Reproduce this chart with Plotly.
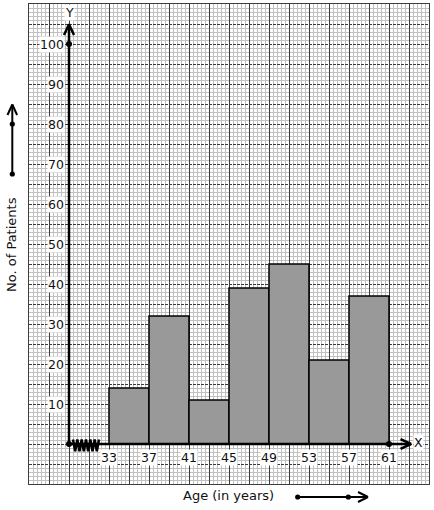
import plotly.graph_objects as go

# ---- data ----
age_edges = [33, 37, 41, 45, 49, 53, 57, 61]
patients = [14, 32, 11, 39, 45, 21, 37]
x_tick_labels = ["33", "37", "41", "45", "49", "53", "57", "61"]
y_tick_vals = [10, 20, 30, 40, 50, 60, 70, 80, 90, 100]
y_tick_labels = [str(v) for v in y_tick_vals]
x_title = "Age (in years)"
y_title = "No. of Patients"

# ---- layout geometry ----
W, H = 434, 510
L, R, T, B = 29, 5, 4, 26
X_RANGE = [25, 65]
Y_RANGE = [-10, 110]
ORIGIN_X = 29
FONT = "DejaVu Sans"
MAJOR = "#3c3c3c"
MINOR = "#c0c0c0"
TXT = "#111"


def pp(px, py):
    """pixel -> paper coords"""
    return (px - L) / (W - L - R), (H - B - py) / (H - T - B)


mids = [(a + b) / 2 for a, b in zip(age_edges[:-1], age_edges[1:])]
widths = [b - a for a, b in zip(age_edges[:-1], age_edges[1:])]

fig = go.Figure()

fig.add_trace(go.Bar(
    x=mids, y=patients, width=widths,
    marker=dict(color="#999999", line=dict(color="black", width=1.5)),
    hoverinfo="skip",
))

# kink (zig-zag) on x axis between origin and 33
zx, zy = [], []
n = 12
for i in range(n + 1):
    zx.append(29.4 + i * (32.0 - 29.4) / n)
    zy.append(1.1 if i % 2 == 0 else -1.8)
fig.add_trace(go.Scatter(x=zx, y=zy, mode="lines",
                         line=dict(color="black", width=2.5), hoverinfo="skip"))

# axes lines
fig.add_trace(go.Scatter(x=[ORIGIN_X, ORIGIN_X], y=[0, 104.75], mode="lines",
                         line=dict(color="black", width=2.5), hoverinfo="skip"))
fig.add_trace(go.Scatter(x=[ORIGIN_X, 63.15], y=[0, 0], mode="lines",
                         line=dict(color="black", width=2.5), hoverinfo="skip"))
# arrow heads
fig.add_trace(go.Scatter(x=[ORIGIN_X - 0.5, ORIGIN_X, ORIGIN_X + 0.5],
                         y=[102.25, 104.9, 102.25], mode="lines",
                         line=dict(color="black", width=2.5), hoverinfo="skip"))
fig.add_trace(go.Scatter(x=[62.15, 63.2, 62.15], y=[1.2, 0, -1.2], mode="lines",
                         line=dict(color="black", width=2.5), hoverinfo="skip"))
# dots
fig.add_trace(go.Scatter(x=[ORIGIN_X, ORIGIN_X, age_edges[-1]], y=[0, 100, 0],
                         mode="markers", marker=dict(color="black", size=6),
                         hoverinfo="skip"))

ann = []
for v, t in zip(y_tick_vals, y_tick_labels):
    ann.append(dict(x=ORIGIN_X, y=v, xref="x", yref="y", text=t, showarrow=False,
                    xanchor="right", yanchor="middle", xshift=-4,
                    bgcolor="white", borderpad=0,
                    font=dict(family=FONT, size=12.5, color=TXT)))
for v, t in zip(age_edges, x_tick_labels):
    ann.append(dict(x=v, y=0, xref="x", yref="y", text=t, showarrow=False,
                    xanchor="center", yanchor="middle", yshift=-13,
                    bgcolor="white", borderpad=0,
                    font=dict(family=FONT, size=12.5, color=TXT)))
ann.append(dict(x=ORIGIN_X, y=108, xref="x", yref="y", text="Y", showarrow=False,
                xanchor="center", yanchor="middle", bgcolor="white", borderpad=0,
                font=dict(family=FONT, size=12.5, color=TXT)))
ann.append(dict(x=63.95, y=0.3, xref="x", yref="y", text="X", showarrow=False,
                xanchor="center", yanchor="middle", bgcolor="white", borderpad=0,
                font=dict(family=FONT, size=12.5, color=TXT)))

px_, py_ = pp(228, 496)
ann.append(dict(x=px_, y=py_, xref="paper", yref="paper", text=x_title,
                showarrow=False, xanchor="center", yanchor="middle",
                font=dict(family=FONT, size=13, color=TXT)))
px_, py_ = pp(11, 245)
ann.append(dict(x=px_, y=py_, xref="paper", yref="paper", text=y_title,
                showarrow=False, xanchor="center", yanchor="middle", textangle=-90,
                font=dict(family=FONT, size=13, color=TXT)))

shapes = []


def seg(p1, p2, w=2):
    x0, y0 = pp(*p1)
    x1, y1 = pp(*p2)
    shapes.append(dict(type="line", xref="paper", yref="paper", x0=x0, y0=y0,
                       x1=x1, y1=y1, line=dict(color="black", width=w)))


def dot(p, r=2.6):
    x0, y0 = pp(p[0] - r, p[1] + r)
    x1, y1 = pp(p[0] + r, p[1] - r)
    shapes.append(dict(type="circle", xref="paper", yref="paper", x0=x0, y0=y0,
                       x1=x1, y1=y1, fillcolor="black",
                       line=dict(color="black", width=0)))


# y-title arrow
seg((12.3, 174), (12.3, 104.5))
seg((7.5, 115), (12.3, 104.5))
seg((17.1, 115), (12.3, 104.5))
dot((12.3, 124))
dot((12.3, 174))
# x-title arrow
seg((297.7, 497), (367.5, 497))
seg((358, 492), (368, 497))
seg((358, 502), (368, 497))
dot((297.7, 497))
dot((348.3, 497))

fig.update_layout(
    width=W, height=H,
    margin=dict(l=L, r=R, t=T, b=B, pad=0),
    paper_bgcolor="white", plot_bgcolor="white",
    showlegend=False, bargap=0,
    annotations=ann, shapes=shapes,
    xaxis=dict(range=X_RANGE, tick0=25, dtick=2, showticklabels=False, ticks="",
               showgrid=True, gridcolor=MAJOR, gridwidth=1, zeroline=False,
               showline=True, mirror=True, linecolor=MAJOR, linewidth=1,
               minor=dict(tick0=25, dtick=0.4, showgrid=True, gridcolor=MINOR,
                          gridwidth=1, griddash="solid")),
    yaxis=dict(range=Y_RANGE, tick0=0, dtick=5, showticklabels=False, ticks="",
               showgrid=True, gridcolor=MAJOR, gridwidth=1, griddash="3px,1px",
               zeroline=False,
               showline=True, mirror=True, linecolor=MAJOR, linewidth=1,
               minor=dict(tick0=0, dtick=1, showgrid=True, gridcolor=MINOR,
                          gridwidth=1, griddash="solid")),
)

fig.write_html(
    "out.html",
    config={"displayModeBar": False, "staticPlot": True},
    post_script="document.body.style.margin='0';document.body.style.padding='0';",
)
